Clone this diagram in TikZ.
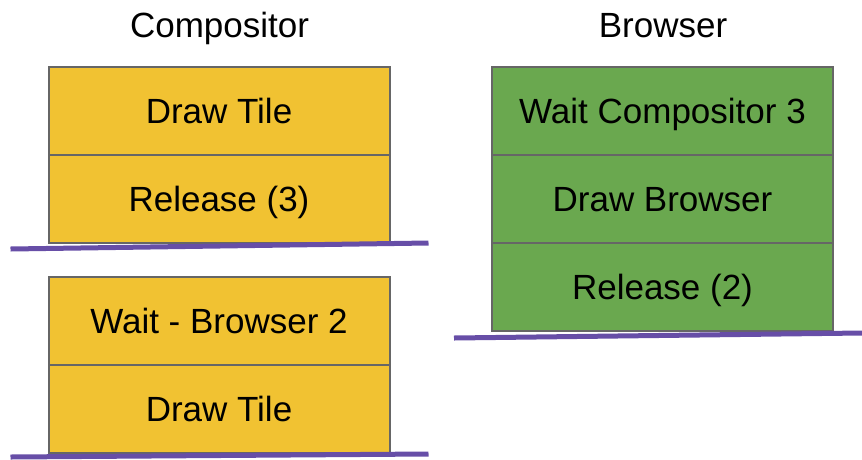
\documentclass[tikz,border=0pt]{standalone}
\usepackage{fontspec}
\setmainfont{Liberation Sans}
\usetikzlibrary{positioning}
\definecolor{tileyellow}{HTML}{F1C232}
\definecolor{browsergreen}{HTML}{6AA84F}
\definecolor{fencepurple}{HTML}{674EA7}
\definecolor{edgegray}{HTML}{666666}
\tikzset{%
	every stage/.style={
		draw=edgegray,
		line width=2pt,
		minimum width=341pt,
		minimum height=88pt,
		inner sep=0pt,
		outer sep=0pt,
		text height=25pt,
		text depth=0pt,
		font=\fontsize{35}{40}\selectfont
	},
	comp stage/.style={every stage, fill=tileyellow},
	browser stage/.style={every stage, fill=browsergreen},
	fence/.style={draw=fencepurple, line width=5pt},
	title/.style={anchor=base, font=\fontsize{35}{40}\selectfont},
}
\begin{document}
\begin{tikzpicture}[x=1pt, y=-1pt]
	\useasboundingbox (0,0) rectangle (862,459);
	
	% Compositor column
	\node[title] (comp title) at (219.5,37) {Compositor};
	\node[comp stage] (comp draw) at (219,111) {Draw Tile};
	\node[comp stage, below=0pt of comp draw] (comp release) {Release (3)};
	\draw[fence] ([xshift=-38pt, yshift=-6pt]comp release.south west) -- ([xshift=39pt]comp release.south east);
	
	\node[comp stage] (comp wait) at (219,321) {Wait - Browser 2};
	\node[comp stage, below=0pt of comp wait] (comp redraw) {Draw Tile};
	\draw[fence] ([xshift=-38pt, yshift=-4pt]comp redraw.south west) -- ([xshift=39pt, yshift=-1pt]comp redraw.south east);
	
	% Browser column
	\node[title] (browser title) at (663,37) {Browser};
	\node[browser stage] (browser wait) at (662.5,111) {Wait Compositor 3};
	\node[browser stage, below=0pt of browser wait] (browser draw) {Draw Browser};
	\node[browser stage, below=0pt of browser draw] (browser release) {Release (2)};
	\draw[fence] ([xshift=-38pt, yshift=-7pt]browser release.south west) -- ([xshift=29pt, yshift=-2pt]browser release.south east);
	
\end{tikzpicture}
\end{document}
